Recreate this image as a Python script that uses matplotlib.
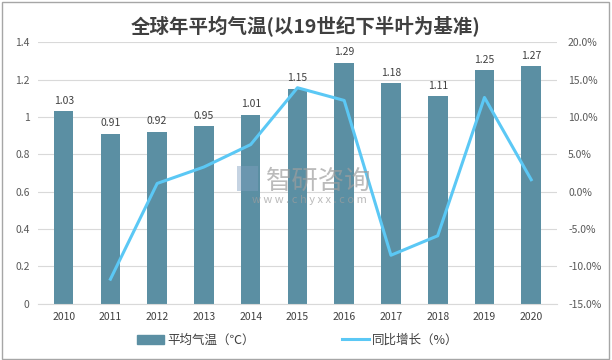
import matplotlib
matplotlib.use("Agg")
import matplotlib.pyplot as plt
from matplotlib.patches import Rectangle
from matplotlib.lines import Line2D
from matplotlib.ticker import FuncFormatter

plt.rcParams['font.family'] = ['Noto Sans CJK SC', 'DejaVu Sans']

years = ['2010', '2011', '2012', '2013', '2014', '2015', '2016', '2017', '2018', '2019', '2020']
temps = [1.03, 0.91, 0.92, 0.95, 1.01, 1.15, 1.29, 1.18, 1.11, 1.25, 1.27]
growth_years = years[1:]
growth = [-11.7, 1.1, 3.3, 6.3, 13.9, 12.2, -8.5, -5.9, 12.6, 1.6]

bar_color = '#5B8FA3'
line_color = '#5BC8F5'
text_color = '#595959'

fig = plt.figure(figsize=(6.12, 3.6), dpi=100)
fig.patches.append(Rectangle((0.003, 0.004), 0.992, 0.99, transform=fig.transFigure,
                             fill=False, edgecolor='#A6A6A6', linewidth=1.0))

ax = fig.add_axes([0.062, 0.156, 0.848, 0.727])
x = list(range(len(years)))
ax.bar(x, temps, width=0.42, color=bar_color, zorder=2)
for xi, v in zip(x, temps):
    ax.text(xi, v + 0.03, f'{v:.2f}', ha='center', va='bottom', fontsize=7.5, color='#404040')

ax.set_ylim(0, 1.4)
ax.set_yticks([0, 0.2, 0.4, 0.6, 0.8, 1.0, 1.2, 1.4])
ax.yaxis.set_major_formatter(FuncFormatter(lambda v, p: f'{v:g}'))
ax.set_xlim(-0.55, len(years) - 0.45)
ax.set_xticks(x)
ax.set_xticklabels(years)
ax.grid(axis='y', color='#D9D9D9', linewidth=0.8, zorder=0)
ax.set_axisbelow(True)
for s in ['top', 'right', 'left']:
    ax.spines[s].set_visible(False)
ax.spines['bottom'].set_color('#D9D9D9')
ax.tick_params(axis='both', length=0, labelsize=7.5, labelcolor=text_color, pad=6)
ax.tick_params(axis='x', labelcolor='#404040')

ax2 = ax.twinx()
gx = [years.index(y) for y in growth_years]
ax2.plot(gx, growth, color=line_color, linewidth=2.2, zorder=3)
ax2.set_ylim(-15, 20)
ax2.set_yticks([-15, -10, -5, 0, 5, 10, 15, 20])
ax2.yaxis.set_major_formatter(FuncFormatter(lambda v, p: f'{v:.1f}%'))
for s in ['top', 'right', 'left', 'bottom']:
    ax2.spines[s].set_visible(False)
ax2.tick_params(axis='y', length=0, labelsize=7.5, labelcolor=text_color, pad=8)

fig.text(0.5, 0.927, '全球年平均气温(以19世纪下半叶为基准)', ha='center', va='center',
         fontsize=14, fontweight='bold', color='#404040')

# watermark
fig.text(0.435, 0.497, '智研咨询', ha='left', va='center', fontsize=19, color='#9E9E9E', alpha=0.7)
fig.text(0.505, 0.445, 'w w w . c h y x x . c o m', ha='center', va='center', fontsize=8, color='#9E9E9E', alpha=0.7)
fig.patches.append(Rectangle((0.388, 0.47), 0.033, 0.07, transform=fig.transFigure,
                             facecolor='#7F9FBF', edgecolor='none', alpha=0.45))

handles = [Rectangle((0, 0), 1, 1, color=bar_color),
           Line2D([0], [0], color=line_color, linewidth=2.2)]
fig.legend(handles, ['平均气温（℃）', '同比增长（%）'], loc='center', bbox_to_anchor=(0.487, 0.055),
           ncol=2, frameon=False, fontsize=9, handlelength=2.1, handletextpad=0.3,
           columnspacing=7.0, labelcolor='#404040', handleheight=0.7)

fig.savefig('out.png', dpi=100)
